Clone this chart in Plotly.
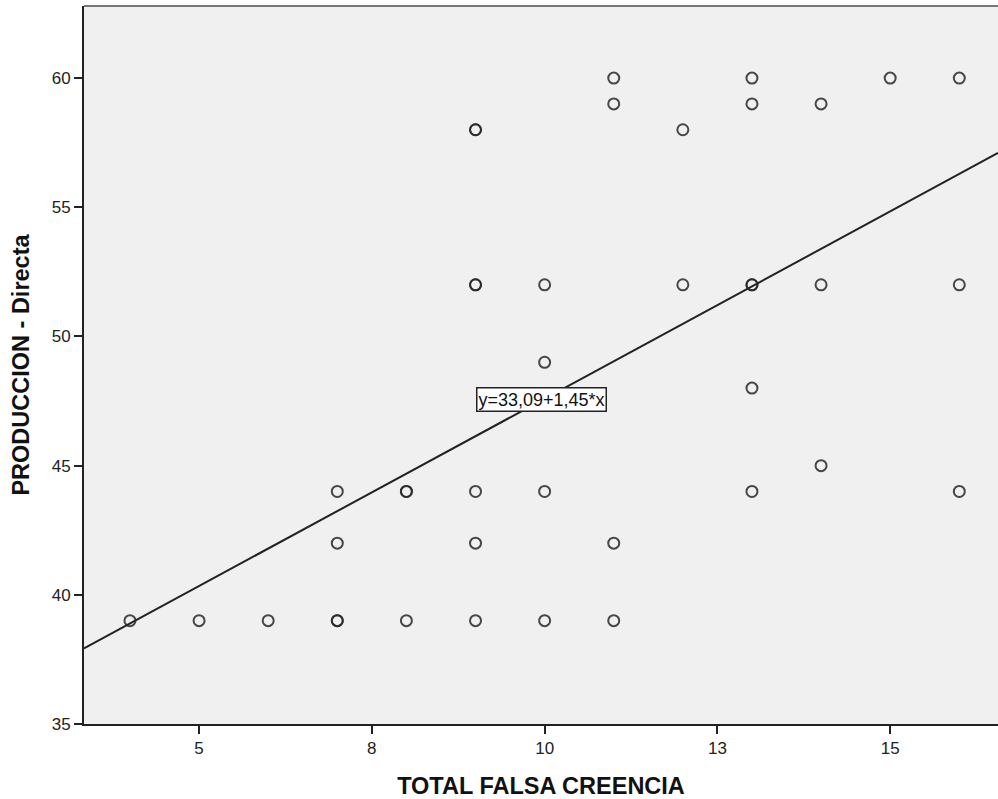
import plotly.graph_objects as go

# Data
x_vals = [4, 5, 6, 7, 7, 7, 7, 8, 8, 8,
          9, 9, 9, 9, 9, 9, 9,
          10, 10, 10, 10,
          11, 11, 11, 11,
          12, 12,
          13, 13, 13, 13, 13, 13,
          14, 14, 14,
          15,
          16, 16, 16]
y_vals = [39, 39, 39, 39, 39, 42, 44, 39, 44, 44,
          39, 42, 44, 52, 52, 58, 58,
          39, 44, 49, 52,
          39, 42, 59, 60,
          52, 58,
          44, 48, 52, 52, 59, 60,
          45, 52, 59,
          60,
          44, 52, 60]
intercept = 33.09
slope = 1.45
x_range = [3.335, 16.56]
y_range = [35, 62.79]
x_tickvals = [5, 7.5, 10, 12.5, 15]
x_ticktext = ["5", "8", "10", "13", "15"]
y_tickvals = [35, 40, 45, 50, 55, 60]
eq_label = "y=33,09+1,45*x"
eq_pos = (9.96, 47.55)

line_x = x_range
line_y = [intercept + slope * v for v in line_x]

fig = go.Figure()
fig.add_trace(go.Scatter(
    x=line_x, y=line_y, mode="lines",
    line=dict(color="#222222", width=2), hoverinfo="skip", showlegend=False))
fig.add_trace(go.Scatter(
    x=x_vals, y=y_vals, mode="markers",
    marker=dict(symbol="circle-open", size=11, color="rgba(40,40,40,0.85)",
                line=dict(width=2)),
    showlegend=False))

fig.add_annotation(
    x=eq_pos[0], y=eq_pos[1], xref="x", yref="y",
    text=eq_label, showarrow=False,
    font=dict(family="Liberation Sans, Arial", size=18, color="#111111"),
    bgcolor="white", bordercolor="#222222", borderwidth=1.5, borderpad=1)

fig.add_shape(type="line", xref="paper", yref="paper", x0=0, x1=1, y0=1, y1=1,
              line=dict(color="#777777", width=2))

fig.update_layout(
    width=998, height=799,
    margin=dict(l=84, r=0, t=6, b=75),
    paper_bgcolor="white", plot_bgcolor="#F0F0F0",
    font=dict(family="Liberation Sans, Arial", color="#222222"),
    xaxis=dict(range=x_range, tickvals=x_tickvals, ticktext=x_ticktext,
               showgrid=False, zeroline=False, showline=True,
               linecolor="#222222", linewidth=2,
               ticks="outside", ticklen=8, tickwidth=2, tickcolor="#222222",
               tickfont=dict(size=17, color="#222222"),
               title=dict(text="<b>TOTAL FALSA CREENCIA</b>",
                          font=dict(size=23.5, color="#111111"), standoff=22)),
    yaxis=dict(range=y_range, tickvals=y_tickvals,
               showgrid=False, zeroline=False, showline=True,
               linecolor="#222222", linewidth=2,
               ticks="outside", ticklen=8, tickwidth=2, tickcolor="#222222",
               tickfont=dict(size=17, color="#222222"),
               title=dict(text="<b>PRODUCCION - Directa</b>",
                          font=dict(size=23.5, color="#111111"), standoff=15)),
)

fig.write_html("out.html", config={"displayModeBar": False},
               post_script="document.body.style.margin='0px';document.body.style.overflow='hidden';")
